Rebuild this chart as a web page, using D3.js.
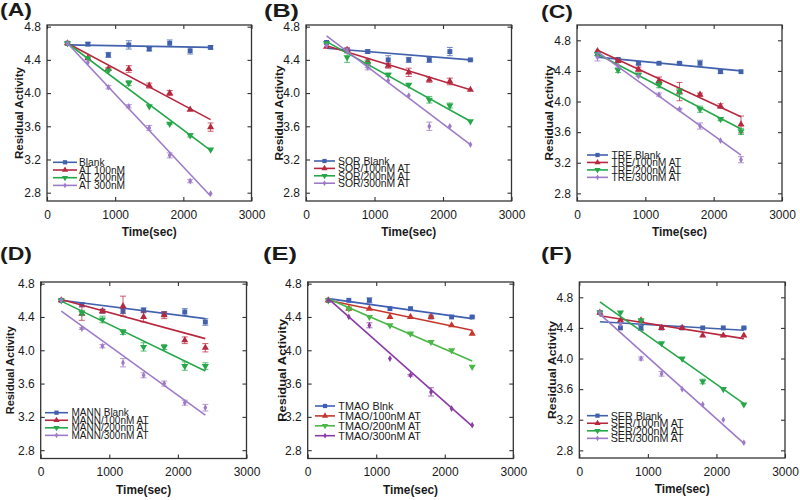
<!DOCTYPE html>
<html><head><meta charset="utf-8">
<script src="https://cdn.jsdelivr.net/npm/d3@7"></script>
<style>body{margin:0;background:#fff}svg{display:block}text{font-family:"Liberation Sans",Arial,Helvetica,sans-serif;fill:#1a1a1a}</style>
</head><body><svg id="c" width="800" height="500"></svg>
<script>
// ---------- DATA ----------
const xTimes = [300, 600, 900, 1200, 1500, 1800, 2100, 2400];
const fitX = [300, 2400];
const xTickValues = [0, 1000, 2000, 3000];
const yTickValues = [2.8, 3.2, 3.6, 4.0, 4.4, 4.8];
const panelLetters = ["(A)", "(B)", "(C)", "(D)", "(E)", "(F)"];
const xTitle = "Time(sec)";
const yTitle = "Residual Activity";

const legendA = ["Blank", "AT 100nM", "AT 200nM", "AT 300nM"];
const legendB = ["SOR Blank", "SOR/100nM AT", "SOR/200nM AT", "SOR/300nM AT"];
const legendC = ["TRE Blank", "TRE/100nM AT", "TRE/200nM AT", "TRE/300nM AT"];
const legendD = ["MANN Blank", "MANN/100nM AT", "MANN/200nm AT", "MANN/300nM AT"];
const legendE = ["TMAO Blnk", "TMAO/100nM AT", "TMAO/200nM AT", "TMAO/300nM AT"];
const legendF = ["SER Blank", "SER/100nM AT", "SER/200nM AT", "SER/300nM AT"];

const valuesA = [
  [4.60, 4.59, 4.46, 4.58, 4.53, 4.60, 4.51, 4.55],
  [4.60, 4.42, 4.29, 4.29, 4.09, 4.00, 3.80, 3.59],
  [4.60, 4.42, 4.27, 4.12, 3.84, 3.63, 3.49, 3.32],
  [4.60, 4.37, 4.07, 3.84, 3.58, 3.25, 2.94, 2.79]];
const errorsA = [
  [0.01, 0.02, 0.03, 0.05, 0.02, 0.04, 0.04, 0.02],
  [0, 0, 0.02, 0.04, 0.03, 0.03, 0, 0.05],
  [0, 0, 0, 0.03, 0, 0.01, 0.02, 0],
  [0, 0, 0.02, 0.02, 0.03, 0.03, 0.02, 0]];
const fitsA = [[4.58, 4.55], [4.60, 3.68], [4.60, 3.31], [4.60, 2.76]];

const valuesB = [
  [4.61, 4.52, 4.50, 4.40, 4.40, 4.40, 4.50, 4.40],
  [4.56, 4.52, 4.38, 4.33, 4.25, 4.16, 4.14, 4.04],
  [4.60, 4.43, 4.35, 4.22, 4.10, 3.92, 3.85, 3.66],
  [4.57, 4.51, 4.31, 4.15, 3.97, 3.60, 3.60, 3.38]];
const errorsB = [
  [0.01, 0.02, 0.02, 0.05, 0.03, 0.03, 0.05, 0.01],
  [0, 0.02, 0.03, 0.03, 0.05, 0.03, 0.04, 0],
  [0, 0.06, 0.04, 0.02, 0, 0.04, 0.03, 0],
  [0, 0.03, 0.03, 0, 0, 0.05, 0, 0]];
const fitsB = [[4.54, 4.40], [4.57, 4.04], [4.62, 3.66], [4.69, 3.38]];

const valuesC = [
  [4.62, 4.55, 4.50, 4.50, 4.50, 4.50, 4.39, 4.39],
  [4.66, 4.53, 4.42, 4.27, 4.13, 4.09, 3.94, 3.70],
  [4.62, 4.41, 4.35, 4.22, 4.13, 3.90, 3.77, 3.61],
  [4.58, 4.47, 4.33, 4.09, 3.90, 3.68, 3.49, 3.24]];
const errorsC = [
  [0.02, 0.02, 0.02, 0.01, 0.01, 0.04, 0.02, 0],
  [0, 0.02, 0.03, 0.05, 0.12, 0.02, 0.03, 0.11],
  [0.02, 0.03, 0.02, 0.04, 0.04, 0.04, 0.02, 0.04],
  [0.05, 0, 0, 0.02, 0.01, 0.04, 0, 0.04]];
const fitsC = [[4.58, 4.40], [4.67, 3.80], [4.62, 3.64], [4.65, 3.30]];

const valuesD = [
  [4.60, 4.55, 4.47, 4.47, 4.48, 4.44, 4.46, 4.34],
  [4.60, 4.44, 4.47, 4.53, 4.40, 4.42, 4.12, 4.03],
  [4.60, 4.45, 4.37, 4.22, 4.04, 4.04, 3.81, 3.81],
  [4.60, 4.26, 4.05, 3.85, 3.70, 3.60, 3.37, 3.31]];
const errorsD = [
  [0.01, 0.02, 0.02, 0.03, 0.03, 0.02, 0.04, 0.04],
  [0, 0.08, 0.02, 0.12, 0.06, 0.04, 0.04, 0.05],
  [0, 0.03, 0.04, 0.03, 0.05, 0.03, 0.05, 0.04],
  [0, 0.01, 0.02, 0.05, 0.03, 0.03, 0.03, 0.04]];
const fitsD = [[4.60, 4.38], [4.61, 4.14], [4.59, 3.75], [4.47, 3.22]];

const valuesE = [
  [4.60, 4.60, 4.60, 4.50, 4.50, 4.40, 4.40, 4.40],
  [4.60, 4.50, 4.50, 4.40, 4.40, 4.40, 4.30, 4.20],
  [4.60, 4.50, 4.40, 4.30, 4.20, 4.10, 4.00, 3.80],
  [4.60, 4.40, 4.30, 3.90, 3.70, 3.50, 3.30, 3.10]];
const errorsE = [
  [0, 0, 0.03, 0, 0, 0, 0, 0.01],
  [0, 0, 0, 0, 0, 0, 0, 0],
  [0, 0, 0, 0, 0.01, 0, 0, 0],
  [0, 0, 0.03, 0, 0.01, 0.05, 0, 0]];
const fitsE = [[4.62, 4.38], [4.60, 4.24], [4.62, 3.87], [4.62, 3.09]];

const valuesF = [
  [4.60, 4.40, 4.40, 4.40, 4.40, 4.40, 4.40, 4.40],
  [4.60, 4.50, 4.50, 4.40, 4.40, 4.30, 4.30, 4.30],
  [4.60, 4.60, 4.50, 4.20, 4.00, 3.70, 3.60, 3.40],
  [4.60, 4.45, 4.00, 3.80, 3.60, 3.40, 3.20, 2.90]];
const errorsF = [
  [0, 0, 0.03, 0, 0, 0, 0, 0.01],
  [0, 0, 0, 0, 0, 0, 0, 0],
  [0, 0, 0, 0, 0, 0.03, 0, 0],
  [0, 0, 0.02, 0.03, 0, 0, 0, 0]];
const fitsF = [[4.48, 4.37], [4.56, 4.26], [4.74, 3.41], [4.58, 2.89]];

const colorsMain = ["#4261ad", "#b7283f", "#26a84a", "#9d7bc8"];
const colorsE = ["#3f5fb3", "#c4372f", "#4bb747", "#8a3ba6"];

// ---------- LAYOUT ----------
const panels = [
  {legend: legendA, values: valuesA, errors: errorsA, fits: fitsA, colors: colorsMain,
   left: 47, right: 251.5, top: 25, bottom: 201, yDomain: [2.7, 4.82],
   lab: {x: 0, y: 16, w: 32}, yt: {dx: -28, len: 92},
   lg: {x0: 53, x1: 77, tx: 79, y0: 162.3, dy: 7.7, fs: 10.2}},
  {legend: legendB, values: valuesB, errors: errorsB, fits: fitsB, colors: colorsMain,
   left: 306, right: 511.5, top: 25, bottom: 201, yDomain: [2.7, 4.82],
   lab: {x: 264, y: 16.5, w: 35}, yt: {dx: -27, len: 95},
   lg: {x0: 314, x1: 335, tx: 338, y0: 161, dy: 7.4, fs: 10.4}},
  {legend: legendC, values: valuesC, errors: errorsC, fits: fitsC, colors: colorsMain,
   left: 577, right: 782, top: 25, bottom: 201, yDomain: [2.7, 5.0],
   lab: {x: 541, y: 17.5, w: 32}, yt: {dx: -28, len: 95},
   lg: {x0: 587, x1: 608, tx: 611.5, y0: 155, dy: 7.45, fs: 10.3}},
  {legend: legendD, values: valuesD, errors: errorsD, fits: fitsD, colors: colorsMain,
   left: 40.7, right: 246.5, top: 282, bottom: 458.5, yDomain: [2.7, 4.82],
   lab: {x: 0, y: 260, w: 32}, yt: {dx: -31, len: 88},
   lg: {x0: 45, x1: 68, tx: 71.5, y0: 412.7, dy: 7.55, fs: 10}},
  {legend: legendE, values: valuesE, errors: errorsE, fits: fitsE, colors: colorsE,
   left: 307.7, right: 513.3, top: 282, bottom: 458.5, yDomain: [2.7, 4.82],
   lab: {x: 263, y: 259.5, w: 34}, yt: {dx: -26, len: 103},
   lg: {x0: 315, x1: 335, tx: 338.3, y0: 406, dy: 9.9, fs: 10.8}},
  {legend: legendF, values: valuesF, errors: errorsF, fits: fitsF, colors: colorsMain,
   left: 579.3, right: 785, top: 282, bottom: 458, yDomain: [2.7, 5.0],
   lab: {x: 541, y: 260, w: 31}, yt: {dx: -27, len: 98},
   lg: {x0: 587, x1: 608, tx: 610.7, y0: 415.7, dy: 7.55, fs: 10.7}}
];

const svg = d3.select("#c");
const triDown = {draw(ctx, size) {
  const h = Math.sqrt(size / (Math.sqrt(3) / 4)) ;
  const r = h / Math.sqrt(3);
  ctx.moveTo(0, r); ctx.lineTo(h / 2, -r / 2); ctx.lineTo(-h / 2, -r / 2); ctx.closePath();
}};
const symbols = [d3.symbolSquare, d3.symbolTriangle, triDown, d3.symbolDiamond];
const symSizes = [24, 22, 22, 13];

panels.forEach((p, pi) => {
  const g = svg.append("g");
  const x = d3.scaleLinear().domain([0, 3000]).range([p.left, p.right]);
  const y = d3.scaleLinear().domain(p.yDomain).range([p.bottom, p.top]);
  const W = p.right - p.left, H = p.bottom - p.top;

  const fmtX = d3.format("d"), fmtY = d3.format(".1f");
  const axB = g.append("g").attr("transform", `translate(0,${p.bottom})`)
    .call(d3.axisBottom(x).tickValues(xTickValues).tickFormat(fmtX).tickSizeInner(-4).tickSizeOuter(0).tickPadding(9));
  const axT = g.append("g").attr("transform", `translate(0,${p.top})`)
    .call(d3.axisTop(x).tickValues(xTickValues).tickFormat("").tickSizeInner(-4).tickSizeOuter(0));
  const axL = g.append("g").attr("transform", `translate(${p.left},0)`)
    .call(d3.axisLeft(y).tickValues(yTickValues).tickFormat(fmtY).tickSizeInner(-4).tickSizeOuter(0).tickPadding(6));
  const axR = g.append("g").attr("transform", `translate(${p.right},0)`)
    .call(d3.axisRight(y).tickValues(yTickValues).tickFormat("").tickSizeInner(-4).tickSizeOuter(0));
  [axB, axT, axL, axR].forEach(a => {
    a.select(".domain").remove();
    a.selectAll("line").attr("stroke", "#333").attr("stroke-width", 1.1);
    a.selectAll("text").attr("font-size", 12).attr("fill", "#1a1a1a")
      .style("font-family", '"Liberation Sans",Arial,sans-serif');
  });
  g.append("rect").attr("x", p.left).attr("y", p.top).attr("width", W).attr("height", H)
    .attr("fill", "none").attr("stroke", "#333").attr("stroke-width", 1.3);

  g.append("text").attr("x", (p.left + p.right) / 2).attr("y", p.bottom + 35)
    .attr("text-anchor", "middle").attr("font-size", 12).attr("font-weight", "bold")
    .attr("textLength", 55).attr("lengthAdjust", "spacingAndGlyphs").text(xTitle);
  g.append("text").attr("transform", `translate(${p.left + p.yt.dx},${(p.top + p.bottom) / 2}) rotate(-90)`)
    .attr("text-anchor", "middle").attr("dy", "0.36em").attr("font-size", 11.5).attr("font-weight", "bold")
    .attr("textLength", p.yt.len).attr("lengthAdjust", "spacingAndGlyphs").text(yTitle);
  g.append("text").attr("x", p.lab.x).attr("y", p.lab.y)
    .attr("font-size", 19).attr("font-weight", "bold").attr("fill", "#111")
    .attr("textLength", p.lab.w).attr("lengthAdjust", "spacingAndGlyphs").text(panelLetters[pi]);

  p.values.forEach((vals, si) => {
    const col = p.colors[si];
    const sg = g.append("g");
    const errPts = xTimes.map((t, i) => ({t, v: vals[i], e: p.errors[si][i]})).filter(d => d.e > 0);
    sg.selectAll("path.err").data(errPts).enter().append("path")
      .attr("d", d => {
        const cx = x(d.t), y1 = y(d.v + d.e), y2 = y(d.v - d.e);
        return `M${cx - 3},${y1}H${cx + 3}M${cx},${y1}V${y2}M${cx - 3},${y2}H${cx + 3}`;
      })
      .attr("stroke", col).attr("stroke-opacity", 0.75).attr("stroke-width", 1).attr("fill", "none");
    sg.append("line").attr("x1", x(fitX[0])).attr("y1", y(p.fits[si][0]))
      .attr("x2", x(fitX[1])).attr("y2", y(p.fits[si][1]))
      .attr("stroke", col).attr("stroke-width", 1.6);
    sg.selectAll("path.pt").data(vals).enter().append("path")
      .attr("transform", (v, i) => `translate(${x(xTimes[i])},${y(v)})`)
      .attr("d", d3.symbol(symbols[si], symSizes[si]))
      .attr("fill", col);
  });

  // legend (rows are as tightly packed as in the reference)
  p.legend.forEach((lab, si) => {
    const ly = p.lg.y0 + si * p.lg.dy;
    const col = p.colors[si];
    g.append("line").attr("x1", p.lg.x0).attr("x2", p.lg.x1).attr("y1", ly).attr("y2", ly)
      .attr("stroke", col).attr("stroke-width", 1.6);
    g.append("path").attr("transform", `translate(${(p.lg.x0 + p.lg.x1) / 2},${ly})`)
      .attr("d", d3.symbol(symbols[si], symSizes[si] * 0.75)).attr("fill", col);
    g.append("text").attr("x", p.lg.tx).attr("y", ly).attr("dy", "0.36em")
      .attr("font-size", p.lg.fs).text(lab);
  });
});
</script>
</body></html>
